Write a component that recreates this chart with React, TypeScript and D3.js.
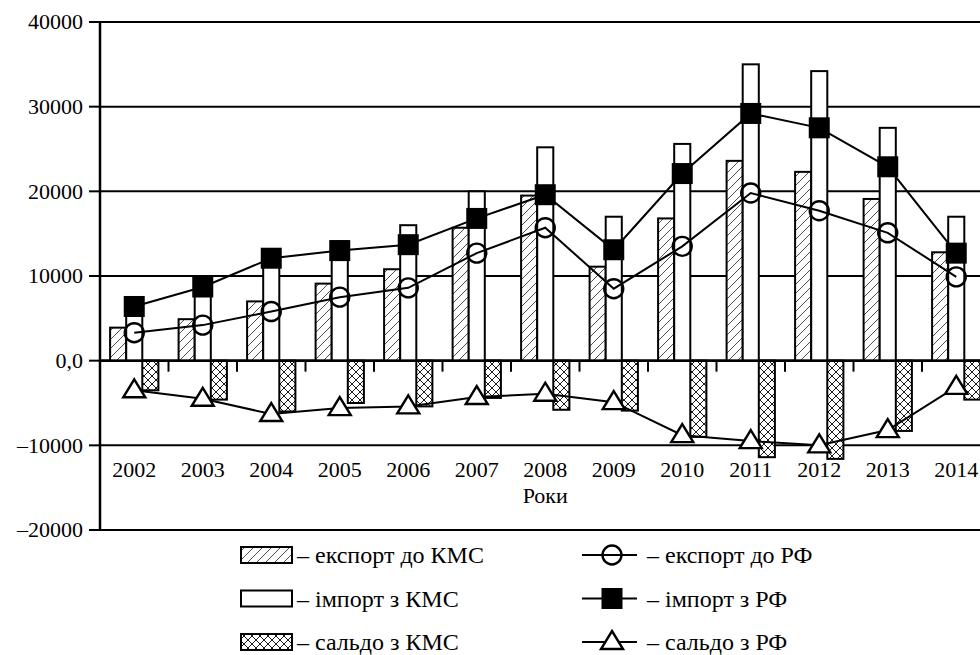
import React from "react";
import * as d3 from "d3";

const years = ["2002","2003","2004","2005","2006","2007","2008","2009","2010","2011","2012","2013","2014"];
const exportKMS = [3900, 4900, 7000, 9100, 10800, 15700, 19500, 11100, 16800, 23600, 22300, 19100, 12800];
const importKMS = [7400, 9500, 13000, 14100, 16000, 20000, 25200, 17000, 25600, 35000, 34200, 27500, 17000];
const saldoKMS = [-3500, -4600, -6000, -5000, -5400, -4400, -5800, -5900, -9000, -11400, -11600, -8300, -4600];
const exportRF = [3300, 4200, 5800, 7500, 8600, 12700, 15700, 8500, 13500, 19800, 17700, 15100, 9900];
const importRF = [6400, 8700, 12100, 13000, 13700, 16800, 19600, 13100, 22100, 29200, 27500, 22900, 12700];
const saldoRF = [-3500, -4500, -6300, -5600, -5400, -4300, -3900, -4900, -8800, -9500, -10000, -8200, -3100];
const yTicks = [40000, 30000, 20000, 10000, 0, -10000, -20000];
const yTickLabels = ["40000", "30000", "20000", "10000", "0,0", "–10000", "–20000"];
const legendBars = ["– експорт до КМС", "– імпорт з КМС", "– сальдо з КМС"];
const legendLines = ["– експорт до РФ", "– імпорт з РФ", "– сальдо з РФ"];
const xTitle = "Роки";

const FONT = '"Liberation Serif", "Times New Roman", "DejaVu Serif", serif';

function Marker({ kind, cx, cy }: { kind: string; cx: number; cy: number }) {
  if (kind === "circle") return <circle cx={cx} cy={cy} r={9.5} fill="none" stroke="#000" strokeWidth={2.4} />;
  if (kind === "square") return <rect x={cx - 10.5} y={cy - 10.5} width={21} height={21} fill="#000" />;
  return <path d={`M${cx},${cy - 11} L${cx + 11},${cy + 7} L${cx - 11},${cy + 7} Z`} fill="#fff" stroke="#000" strokeWidth={2.4} strokeLinejoin="miter" />;
}

export default function App() {
  const W = 980, H = 655;
  const x = d3.scaleBand<string>().domain(years).range([100, 990.5]).padding(0);
  const y = d3.scaleLinear().domain([-20000, 40000]).range([530, 22]);
  const bw = x.bandwidth() * 0.235;
  const cx = (i: number) => (x(years[i]) as number) + x.bandwidth() / 2;
  const line = d3.line<number>().x((_, i) => cx(i)).y((d) => y(d));

  const barSeries = [
    { data: exportKMS, off: -1.5, fill: "url(#hatch)" },
    { data: importKMS, off: -0.5, fill: "#fff" },
    { data: saldoKMS, off: 0.5, fill: "url(#cross)" },
  ];
  const lineSeries = [
    { data: exportRF, kind: "circle" },
    { data: importRF, kind: "square" },
    { data: saldoRF, kind: "triangle" },
  ];
  const legendFills = ["url(#hatch)", "#fff", "url(#cross)"];
  const legendKinds = ["circle", "square", "triangle"];
  const legendY = [555, 598.5, 642];
  const fs = 22;
  const lfs = 24;

  return (
    <svg width={W} height={H} style={{ position: "absolute", left: 0, top: 0, background: "#fff", fontFamily: FONT }}>
      <defs>
        <pattern id="hatch" patternUnits="userSpaceOnUse" width={9} height={9}>
          <rect width={9} height={9} fill="#fff" />
          <path d="M-2,2 L2,-2 M0,9 L9,0 M7,11 L11,7" stroke="#222" strokeWidth={0.8} />
        </pattern>
        <pattern id="cross" patternUnits="userSpaceOnUse" width={8} height={8}>
          <rect width={8} height={8} fill="#fff" />
          <path d="M-2,2 L2,-2 M0,8 L8,0 M6,10 L10,6 M-2,6 L2,10 M0,0 L8,8 M6,-2 L10,2" stroke="#000" strokeWidth={0.9} />
        </pattern>
      </defs>
      <rect width={W} height={H} fill="#fff" />
      {yTicks.map((t) => (
        <line key={t} x1={100} x2={W} y1={y(t)} y2={y(t)} stroke="#000" strokeWidth={t === 0 ? 2.5 : 2} />
      ))}
      {yTicks.map((t, i) => (
        <g key={"yt" + t}>
          <line x1={89} x2={100} y1={y(t)} y2={y(t)} stroke="#000" strokeWidth={2} />
          <text x={83} y={y(t)} dy="0.34em" textAnchor="end" fontSize={fs} fontFamily={FONT}>{yTickLabels[i]}</text>
        </g>
      ))}
      {years.slice(1).map((yr) => (
        <line key={"xt" + yr} x1={x(yr) as number} x2={x(yr) as number} y1={y(0)} y2={y(0) + 11} stroke="#000" strokeWidth={2} />
      ))}
      {barSeries.map((s, si) =>
        s.data.map((v, i) => {
          const x0 = cx(i) + s.off * bw;
          const y0 = Math.min(y(v), y(0));
          const h = Math.abs(y(v) - y(0));
          return <rect key={si + "-" + i} x={x0} y={y0} width={bw} height={h} fill={s.fill} stroke="#000" strokeWidth={2} />;
        })
      )}
      <line x1={100} x2={W} y1={y(0)} y2={y(0)} stroke="#000" strokeWidth={2.5} />
      {lineSeries.map((s, si) => (
        <path key={"l" + si} d={line(s.data) as string} fill="none" stroke="#000" strokeWidth={2} />
      ))}
      {lineSeries.map((s, si) =>
        s.data.map((v, i) => <Marker key={"m" + si + i} kind={s.kind} cx={cx(i)} cy={y(v)} />)
      )}
      <line x1={100} x2={100} y1={y(40000)} y2={y(-20000)} stroke="#000" strokeWidth={2.5} />
      {years.map((yr, i) => (
        <text key={"yl" + yr} x={cx(i)} y={470} dy="0.34em" textAnchor="middle" fontSize={fs} fontFamily={FONT}>{yr}</text>
      ))}
      <text x={(100 + 990.5) / 2} y={496} dy="0.34em" textAnchor="middle" fontSize={fs} fontFamily={FONT}>{xTitle}</text>
      {legendBars.map((t, i) => (
        <g key={"lb" + i}>
          <rect x={241} y={legendY[i] - 8} width={51} height={16} fill={legendFills[i]} stroke="#000" strokeWidth={2} />
          <text x={297} y={legendY[i]} dy="0.34em" fontSize={lfs} fontFamily={FONT}>{t}</text>
        </g>
      ))}
      {legendLines.map((t, i) => (
        <g key={"ll" + i}>
          <line x1={582} x2={637} y1={legendY[i]} y2={legendY[i]} stroke="#000" strokeWidth={2} />
          <Marker kind={legendKinds[i]} cx={612} cy={legendY[i]} />
          <text x={647} y={legendY[i]} dy="0.34em" fontSize={lfs} fontFamily={FONT}>{t}</text>
        </g>
      ))}
    </svg>
  );
}
